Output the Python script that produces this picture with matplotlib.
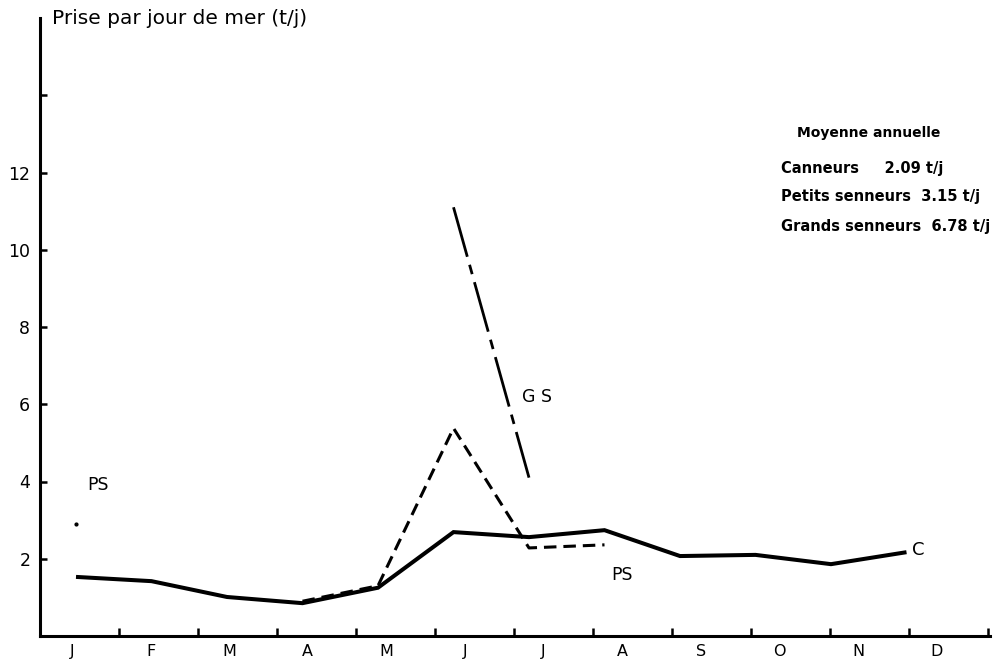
import matplotlib
matplotlib.use("Agg")
import matplotlib.pyplot as plt
import numpy as np

plt.rcParams['font.family'] = ['DejaVu Sans']
plt.rcParams['lines.scale_dashes'] = False

months = ["J", "F", "M", "A", "M", "J", "J", "A", "S", "O", "N", "D"]
canneurs = [1.53, 1.42, 1.01, 0.85, 1.25, 2.69, 2.56, 2.74, 2.07, 2.10, 1.86, 2.17]
ps_months = [3, 4, 5, 6, 7]
petits_senneurs = [0.9, 1.3, 5.38, 2.28, 2.36]
ps_jan_month = [0]
ps_jan_value = [2.9]
gs_months = [5, 6]
grands_senneurs = [11.1, 4.1]
y_ticks = [2, 4, 6, 8, 10, 12, 14]
y_ticklabels = ["2", "4", "6", "8", "10", "12", ""]
title = "Prise par jour de mer (t/j)"
legend_title = "Moyenne annuelle"
legend_lines = ["Canneurs     2.09 t/j", "Petits senneurs  3.15 t/j", "Grands senneurs  6.78 t/j"]

W, H = 1001, 664
fig = plt.figure(figsize=(W / 100, H / 100), dpi=100)

# pixel layout of the reference
x0_px, step_px = 76.0, 75.5       # month index -> pixel
ax_left_px, ax_right_px = 40.0, 990.0
ax_bottom_px, ax_top_px = 636.0, 18.0
ax = fig.add_axes([ax_left_px / W, 1 - ax_bottom_px / H,
                   (ax_right_px - ax_left_px) / W, (ax_bottom_px - ax_top_px) / H])
ax.set_xlim((ax_left_px - x0_px) / step_px, (ax_right_px - x0_px) / step_px)
ax.set_ylim(0, 16)

x = np.arange(len(months))
ax.plot(x, canneurs, color="black", lw=2.9, solid_joinstyle="miter", solid_capstyle="butt")
ax.plot(ps_months, petits_senneurs, color="black", lw=2.2, dashes=(9, 5))
ax.plot(ps_jan_month, ps_jan_value, "o", color="black", ms=2)
ax.plot(gs_months, grands_senneurs, color="black", lw=2.0, dashes=(37, 6, 7, 6))

# axes styling
for s in ["top", "right"]:
    ax.spines[s].set_visible(False)
for s in ["left", "bottom"]:
    ax.spines[s].set_linewidth(2.2)

ax.set_yticks(y_ticks)
ax.set_yticklabels(y_ticklabels)
ax.tick_params(axis="y", direction="in", length=5, width=1.8, labelsize=12.5, pad=7)

# x ticks at month boundaries, labels slightly offset (hand-drawn)
tick_px = ax_left_px + 79.0 * np.arange(1, 13)
ax.set_xticks((tick_px - x0_px) / step_px)
ax.set_xticklabels([])
label_px = 72.0 + 78.6 * np.arange(len(months))
ax.set_xticks((label_px - x0_px) / step_px, minor=True)
ax.set_xticklabels(months, minor=True)
ax.tick_params(axis="x", which="major", direction="in", length=6, width=1.8)
ax.tick_params(axis="x", which="minor", length=0, labelsize=11.5, pad=6)

def px_to_data(px, py):
    return (px - x0_px) / step_px, (ax_bottom_px - py) / ((ax_bottom_px - ax_top_px) / 16)

for txt, (px, py), fs in [("G S", (537, 397), 12.5), ("PS", (98, 485), 12.5),
                          ("PS", (622, 575), 12.5), ("C", (918, 550), 13)]:
    dx, dy = px_to_data(px, py)
    ax.text(dx, dy, txt, ha="center", va="center", fontsize=fs)

fig.text(52 / W, 1 - 18 / H, title, ha="left", va="center", fontsize=14.5)

fig.text(797 / W, 1 - 133 / H, legend_title, ha="left", va="center", fontsize=10, fontweight="bold")
for txt, py in zip(legend_lines, [168, 197, 226]):
    fig.text(781 / W, 1 - py / H, txt, ha="left", va="center", fontsize=10.5, fontweight="bold")

fig.savefig("out.png", dpi=100)
